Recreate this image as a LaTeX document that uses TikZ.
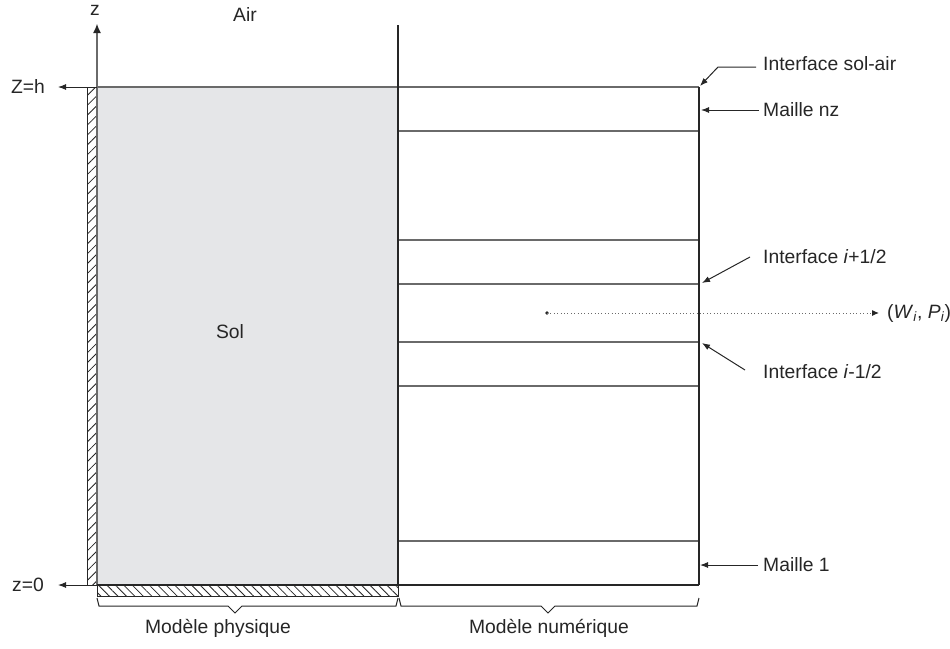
\documentclass[tikz,border=0pt]{standalone}
\usepackage{fontspec}
\setmainfont{Liberation Sans}
\usetikzlibrary{arrows.meta,patterns.meta,calc}
\definecolor{ink}{HTML}{262626}
\definecolor{gridc}{HTML}{6A6A6A}
\definecolor{soil}{HTML}{E5E6E8}
\tikzset{
 lbl/.style={font=\fontsize{19.3}{23}\selectfont, text=ink, inner sep=0pt},
 arrowtip/.style={-{Latex[length=8pt,width=6pt,color=ink]}},
 frame/.style={draw=ink, line width=1.3pt},
 cell/.style={draw=gridc, line width=1.1pt},
 lead/.style={draw=ink, line width=1pt, -{Latex[length=8pt,width=6pt]}},
 bracepath/.style={draw=ink, line width=1pt, line join=miter},
 hatchL/.style={draw=ink, line width=0.9pt, pattern={Lines[angle=45,distance=7pt,line width=0.8pt]}, pattern color=ink},
 hatchB/.style={draw=ink, line width=0.9pt, pattern={Lines[angle=-45,distance=6pt,line width=0.8pt]}, pattern color=ink},
}
\begin{document}
\begin{tikzpicture}[x=1pt,y=-1pt]
\useasboundingbox (0,0) rectangle (950,648);
% soil block
\fill[soil] (97,87) rectangle (398,585);
% hatched strips
\draw[hatchL] (87,87) rectangle (97,585);
\draw[hatchB] (97,585) rectangle (398,596);
% coordinates
\coordinate (o) at (97,585);
\coordinate (ztop) at (97,24);
\coordinate (zhs) at (97,87);
\coordinate (zht) at (58,87);
\coordinate (z0s) at (87,585);
\coordinate (z0t) at (58,585);
\coordinate (vtop) at (398,25);
\coordinate (vbot) at (398,585);
\coordinate (rtop) at (699,87);
\coordinate (rbot) at (699,585);
% numerical cells
\foreach \yy in {131,240,284,342,386,541}{
  \draw[cell] (398,\yy) -- (699,\yy);
}
\draw[cell] (zhs) -- (rtop);
% axis and frames
\draw[draw=gridc, line width=1.1pt, -{Latex[length=9pt,width=8pt,color=ink]}] (o) -- (ztop);
\draw[draw=ink, line width=1pt, arrowtip] (zhs) -- (zht);
\draw[draw=ink, line width=1pt, arrowtip] (z0s) -- (z0t);
\draw[frame] (vtop) -- (vbot);
\draw[frame] (rtop) -- (rbot);
\draw[frame] (o) -- (rbot);
% labels
\node[lbl] (zl) at (95,10) {z};
\node[lbl] (air) at (245,15) {Air};
\node[lbl] (zh) at (28,87) {Z=h};
\node[lbl] (z0) at (28,585) {z=0};
\node[lbl] (sol) at (230,332) {Sol};
\node[lbl,anchor=west] (isa) at (763,64) {Interface sol-air};
\node[lbl,anchor=west] (mnz) at (763,110) {Maille nz};
\node[lbl,anchor=west] (ip) at (763,257) {Interface \textit{i}+1/2};
\node[lbl,anchor=west] (im) at (763,372) {Interface \textit{i}-1/2};
\node[lbl,anchor=west] (m1) at (763,565) {Maille 1};
\node[lbl,anchor=west] (wp) at (887,313) {(\textit{W}\textsubscript{\textit{i}}, \textit{P}\textsubscript{\textit{i}})};
\node[lbl] (mp) at (218,628) {Modèle physique};
\node[lbl] (mn) at (549,628) {Modèle numérique};
% leader tips
\coordinate (tisa) at (700,86);
\coordinate (tmnz) at (701,110);
\coordinate (tip) at (702,283);
\coordinate (tim) at (702,343);
\coordinate (tm1) at (700,565);
\draw[lead] ([xshift=-7pt,yshift=-3pt]isa.west) -- ++(-38,0) -- (tisa);
\draw[lead] ([xshift=-4pt]mnz.west) -- (tmnz);
\draw[lead] ([xshift=-13pt]ip.west) -- (tip);
\draw[lead] ([xshift=-18pt,yshift=2pt]im.west) -- (tim);
\draw[lead] ([xshift=-5pt]m1.west) -- (tm1);
% dotted arrow
\coordinate (dot) at (547,313);
\fill[ink] (dot) circle (1.8);
\draw[draw=gridc, line width=1pt, dash pattern=on 1pt off 2.4pt, -{Latex[length=7pt,width=6pt,color=ink]}] (dot) -- ([xshift=-8pt]wp.west);
% braces
\draw[bracepath] (97,598) -- (99,606) -- (228,606) -- (235,613) -- (242,606) -- (396,606) -- (398,598);
\draw[bracepath] (399,598) -- (401,606) -- (541,606) -- (548,613) -- (555,606) -- (697,606) -- (699,598);
\end{tikzpicture}
\end{document}
